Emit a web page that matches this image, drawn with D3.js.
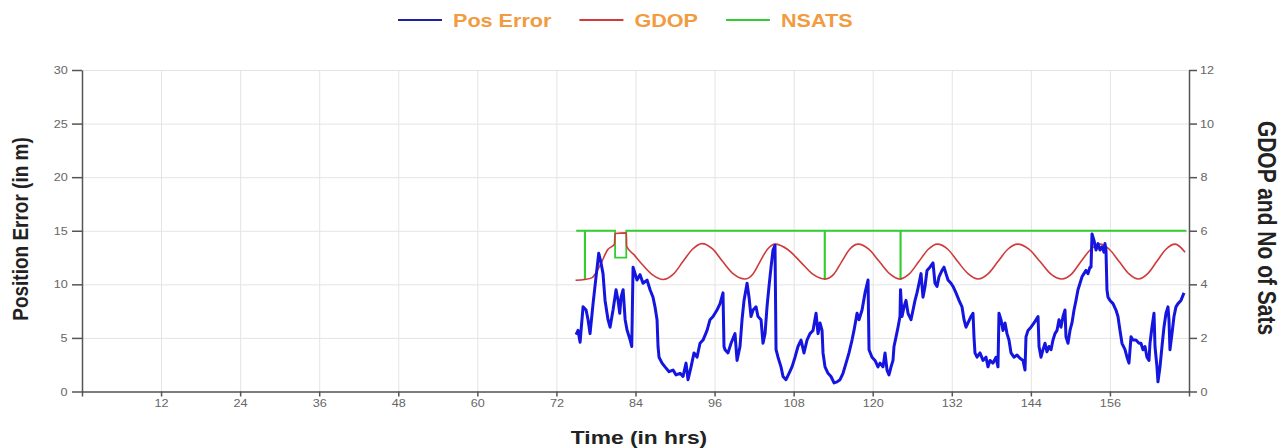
<!DOCTYPE html>
<html>
<head>
<meta charset="utf-8">
<script src="https://cdn.jsdelivr.net/npm/d3@7"></script>
<style>
body { margin: 0; background: #fff; }
svg text { font-family: Arial, "Liberation Sans", sans-serif; }
.axis .tick text { fill: #666; font-size: 11px; transform-box: fill-box; transform-origin: center; transform: scaleX(1.15); }
.axis path, .axis line { stroke: #555; stroke-width: 1.5; }
.grid line { stroke: #e4e4e4; stroke-width: 1; }
.grid path { display: none; }
.title { font-weight: bold; fill: #222; }
.legend text { font-weight: bold; fill: #f29b3f; font-size: 18px; }
</style>
</head>
<body>
<svg id="chart" width="1284" height="448"></svg>
<script>
// tick labels
const timeTicks = [0, 12, 24, 36, 48, 60, 72, 84, 96, 108, 120, 132, 144, 156, 168];
const errorTicks = [0, 5, 10, 15, 20, 25, 30];
const gdopTicks = [0, 2, 4, 6, 8, 10, 12];

// Pos Error (m) against time (hrs)
const posTime = [
    74.98, 75.28, 75.59, 76.04, 76.50, 76.80, 77.10, 77.56, 78.01, 78.42,
    78.77, 79.07, 79.38, 79.83, 80.14, 80.59, 81.05, 81.35, 81.61, 81.81,
    82.12, 82.43, 82.73, 83.19, 83.43, 83.63, 83.78, 84.23, 84.69, 85.14,
    85.75, 86.21, 86.66, 86.96, 87.27, 87.42, 87.57, 88.03, 88.48, 89.09,
    89.70, 90.15, 90.76, 91.21, 91.67, 91.97, 92.43, 92.88, 93.34, 93.79,
    94.25, 94.86, 95.31, 95.77, 96.37, 96.83, 97.28, 97.43, 97.59, 98.04,
    98.50, 99.10, 99.41, 99.86, 100.17, 100.47, 100.93, 101.23, 101.53, 101.84,
    102.29, 102.59, 103.05, 103.35, 103.66, 103.96, 104.26, 104.57, 104.87, 105.17,
    105.33, 105.63, 106.08, 106.39, 106.84, 107.30, 107.75, 108.21, 108.66, 109.12,
    109.57, 110.03, 110.48, 110.94, 111.40, 111.70, 112.00, 112.31, 112.46, 112.76,
    113.22, 113.67, 114.13, 114.58, 115.04, 115.49, 115.95, 116.40, 116.86, 117.16,
    117.62, 117.92, 118.38, 118.83, 119.29, 119.44, 119.89, 120.35, 120.80, 121.11,
    121.56, 121.87, 122.17, 122.47, 122.78, 123.08, 123.23, 123.54, 123.84, 124.14,
    124.22, 124.45, 124.75, 125.05, 125.36, 125.81, 126.12, 126.42, 126.72, 127.03,
    127.33, 127.63, 127.94, 128.24, 128.69, 129.15, 129.45, 129.76, 130.06, 130.52,
    130.82, 131.12, 131.43, 131.88, 132.19, 132.64, 133.10, 133.55, 133.86, 134.16,
    134.46, 134.92, 135.22, 135.37, 135.52, 135.83, 136.28, 136.74, 137.19, 137.50,
    137.80, 138.25, 138.71, 139.01, 139.16, 139.47, 139.77, 140.08, 140.38, 140.68,
    140.99, 141.44, 141.90, 142.35, 142.81, 143.11, 143.26, 143.57, 144.02, 144.48,
    144.78, 145.09, 145.24, 145.54, 145.84, 146.15, 146.45, 146.75, 147.06, 147.36,
    147.66, 147.97, 148.27, 148.57, 148.88, 149.18, 149.33, 149.64, 149.94, 150.24,
    150.55, 150.85, 151.15, 151.46, 151.76, 152.06, 152.37, 152.67, 152.97, 153.13,
    153.28, 153.58, 153.89, 154.19, 154.49, 154.80, 155.10, 155.25, 155.40, 155.55,
    155.71, 156.01, 156.47, 156.92, 157.22, 157.53, 157.83, 158.29, 158.59, 158.89,
    159.20, 159.50, 159.95, 160.41, 160.71, 161.02, 161.32, 161.62, 161.93, 162.08,
    162.38, 162.69, 162.84, 163.14, 163.29, 163.60, 163.90, 164.20, 164.51, 164.81,
    164.96, 165.11, 165.42, 165.72, 166.02, 166.33, 166.78, 167.24
];
const posError = [
    5.3, 5.7, 4.6, 7.9, 7.6, 6.7, 5.4, 8.2, 10.7, 12.9,
    12.0, 11.0, 8.5, 6.7, 6.0, 7.6, 9.5, 8.5, 7.3, 8.8,
    9.5, 6.7, 5.7, 4.8, 4.2, 11.6, 11.3, 10.4, 10.9, 10.1,
    10.4, 9.5, 8.8, 7.9, 6.7, 4.2, 3.2, 2.65, 2.3, 1.85,
    2.0, 1.55, 1.7, 1.4, 2.65, 1.1, 2.3, 3.6, 3.2, 4.5,
    4.8, 5.7, 6.7, 7.0, 7.6, 8.2, 9.2, 4.2, 3.9, 3.6,
    4.5, 5.4, 2.9, 4.2, 6.7, 8.5, 10.1, 8.8, 7.0, 7.6,
    7.9, 7.0, 6.7, 4.5, 5.4, 7.9, 9.8, 11.6, 13.2, 13.65,
    3.9, 3.2, 2.3, 1.4, 1.1, 1.7, 2.3, 3.2, 4.2, 4.8,
    3.6, 4.8, 5.4, 5.7, 7.3, 5.4, 6.4, 5.7, 3.6, 2.3,
    1.7, 1.4, 0.8, 0.9, 1.1, 1.7, 2.65, 3.6, 4.8, 5.7,
    7.3, 6.7, 7.6, 9.2, 10.4, 3.9, 3.2, 2.9, 2.3, 2.65,
    2.3, 3.6, 2.0, 1.55, 2.3, 2.9, 4.2, 5.1, 6.0, 7.0,
    9.5, 7.0, 7.9, 8.5, 7.3, 6.7, 7.6, 8.5, 9.2, 10.1,
    11.0, 8.8, 9.8, 11.3, 11.6, 12.0, 10.1, 9.8, 10.7, 11.3,
    11.6, 11.0, 10.4, 10.1, 9.8, 9.2, 8.5, 7.9, 6.7, 6.0,
    6.4, 7.0, 7.3, 5.1, 3.6, 3.2, 3.6, 2.9, 3.2, 2.3,
    2.9, 2.65, 3.2, 2.3, 7.3, 6.7, 5.7, 6.4, 5.4, 4.8,
    3.6, 3.2, 3.4, 3.1, 2.9, 2.0, 5.1, 5.7, 6.0, 6.4,
    6.7, 7.0, 4.2, 3.2, 3.9, 4.5, 3.7, 4.2, 3.9, 4.8,
    5.4, 5.7, 6.7, 6.0, 7.0, 7.6, 5.1, 4.5, 5.7, 6.4,
    7.6, 8.5, 9.5, 10.1, 10.7, 11.0, 11.3, 11.0, 11.6, 11.6,
    14.7, 14.1, 13.2, 13.8, 13.2, 13.5, 13.0, 13.8, 13.2, 9.5,
    8.8, 8.5, 8.2, 7.6, 7.0, 5.7, 4.5, 3.9, 3.2, 2.65,
    5.1, 4.8, 4.8, 4.5, 4.5, 3.9, 4.2, 3.2, 2.9, 4.5,
    6.0, 7.3, 4.2, 2.3, 0.9, 2.3, 4.2, 6.0, 7.3, 7.9,
    6.7, 3.9, 5.4, 7.0, 7.9, 8.2, 8.5, 9.2
];

// GDOP against time (hrs)
const gdopTime = [
    74.9, 76.3, 77.4, 78.6, 79.8, 80.8, 80.9, 82.6, 82.65, 83.8,
    85.0, 86.6, 88.2, 89.7, 91.2, 92.6, 94.1, 95.7, 97.2, 98.9,
    100.6, 101.8, 102.9, 104.0, 105.2, 107.1, 109.0, 110.9, 112.8, 114.1,
    115.3, 116.5, 117.8, 119.4, 121.0, 122.6, 124.1, 125.5, 127.0, 128.4,
    129.8, 131.4, 132.9, 134.5, 136.0, 137.5, 139.0, 140.5, 142.0, 143.7,
    145.4, 147.0, 148.7, 150.2, 151.6, 153.1, 154.5, 155.9, 157.4, 158.9,
    160.3, 161.7, 163.1, 164.5, 165.9, 167.4
];
const gdopValue = [
    4.15, 4.18, 4.25, 4.7, 5.3, 5.5, 5.9, 5.92, 5.42, 5.1,
    4.75, 4.35, 4.18, 4.37, 4.85, 5.3, 5.52, 5.32, 4.86, 4.38,
    4.2, 4.38, 4.85, 5.3, 5.5, 5.3, 4.85, 4.38, 4.2, 4.38,
    4.85, 5.31, 5.5, 5.31, 4.85, 4.39, 4.2, 4.38, 4.85, 5.3,
    5.5, 5.31, 4.85, 4.39, 4.2, 4.39, 4.85, 5.31, 5.5, 5.31,
    4.85, 4.39, 4.2, 4.39, 4.85, 5.31, 5.5, 5.31, 4.85, 4.39,
    4.2, 4.39, 4.85, 5.31, 5.5, 5.2
];

// NSATS against time (hrs), step changes
const nsatsTime = [75.0, 76.3, 76.35, 80.9, 82.6, 112.7, 112.75, 124.2, 124.25, 167.6];
const nsatsValue = [6, 4.2, 6, 5, 6, 4.2, 6, 4.2, 6, 6];

const seriesNames = ["Pos Error", "GDOP", "NSATS"];
const seriesColors = ["#1515e0", "#d03a3a", "#33cc33"];
const legendColors = ["#1f1fa8", "#d03a3a", "#33cc33"];

const margin = { top: 70, right: 95, bottom: 56.5, left: 82 };
const W = 1284, H = 448;
const width = W - margin.left - margin.right;
const height = H - margin.top - margin.bottom;
const textStretch = 1.2;

const svg = d3.select("#chart");
const g = svg.append("g").attr("transform", `translate(${margin.left},${margin.top})`);

const x = d3.scaleLinear().domain([0, 168]).range([0, width]);
const yLeft = d3.scaleLinear().domain([0, 30]).range([height, 0]);
const yRight = d3.scaleLinear().domain([0, 12]).range([height, 0]);

// grid
g.append("g").attr("class", "grid")
    .call(d3.axisLeft(yLeft).tickValues(errorTicks).tickSize(-width).tickFormat(""));
g.append("g").attr("class", "grid")
    .attr("transform", `translate(0,${height})`)
    .call(d3.axisBottom(x).tickValues(timeTicks.slice(1, -1)).tickSize(-height).tickFormat(""));

// axes
g.append("g").attr("class", "axis")
    .call(d3.axisLeft(yLeft).tickValues(errorTicks).tickSize(10).tickPadding(5).tickSizeOuter(0));
g.append("g").attr("class", "axis")
    .attr("transform", `translate(${width},0)`)
    .call(d3.axisRight(yRight).tickValues(gdopTicks).tickSize(8).tickPadding(4).tickSizeOuter(0));
g.append("g").attr("class", "axis")
    .attr("transform", `translate(0,${height})`)
    .call(d3.axisBottom(x).tickValues(timeTicks).tickSize(5).tickPadding(3).tickSizeOuter(0)
        .tickFormat(d => (d === 0 || d === 168) ? "" : d));

// lines
const posData = posTime.map((t, i) => [t, posError[i]]);
const gdopData = gdopTime.map((t, i) => [t, gdopValue[i]]);
const nsatsData = nsatsTime.map((t, i) => [t, nsatsValue[i]]);

g.append("path")
    .datum(nsatsData)
    .attr("fill", "none")
    .attr("stroke", seriesColors[2])
    .attr("stroke-width", 1.8)
    .attr("d", d3.line().x(d => x(d[0])).y(d => yRight(d[1])).curve(d3.curveStepAfter));

g.append("path")
    .datum(gdopData)
    .attr("fill", "none")
    .attr("stroke", seriesColors[1])
    .attr("stroke-width", 1.6)
    .attr("d", d3.line().x(d => x(d[0])).y(d => yRight(d[1])).curve(d3.curveMonotoneX));

g.append("path")
    .datum(posData)
    .attr("fill", "none")
    .attr("stroke", seriesColors[0])
    .attr("stroke-width", 3)
    .attr("stroke-linejoin", "round")
    .attr("d", d3.line().x(d => x(d[0])).y(d => yLeft(d[1])));

// axis titles
svg.append("text")
    .attr("class", "title")
    .attr("transform", `translate(20,229) rotate(-90) scale(1,${textStretch})`)
    .attr("text-anchor", "middle")
    .attr("dominant-baseline", "central")
    .style("font-size", "19px")
    .text("Position Error (in m)");

svg.append("text")
    .attr("class", "title")
    .attr("transform", `translate(1267,228) rotate(90) scale(1,${textStretch})`)
    .attr("text-anchor", "middle")
    .attr("dominant-baseline", "central")
    .style("font-size", "21px")
    .text("GDOP and No of Sats");

svg.append("text")
    .attr("class", "title")
    .attr("transform", `translate(639,437) scale(${textStretch},1)`)
    .attr("text-anchor", "middle")
    .attr("dominant-baseline", "central")
    .style("font-size", "19px")
    .text("Time (in hrs)");

// legend
const legend = svg.append("g").attr("class", "legend");
let lx = 398;
seriesNames.forEach((name, i) => {
    legend.append("line")
        .attr("x1", lx).attr("x2", lx + 44)
        .attr("y1", 20).attr("y2", 20)
        .attr("stroke", legendColors[i])
        .attr("stroke-width", 2);
    const t = legend.append("text")
        .attr("transform", `translate(${lx + 55},21) scale(${textStretch},1)`)
        .attr("dominant-baseline", "central")
        .text(name);
    lx += 55 + t.node().getComputedTextLength() * textStretch + 28;
});
</script>
</body>
</html>
